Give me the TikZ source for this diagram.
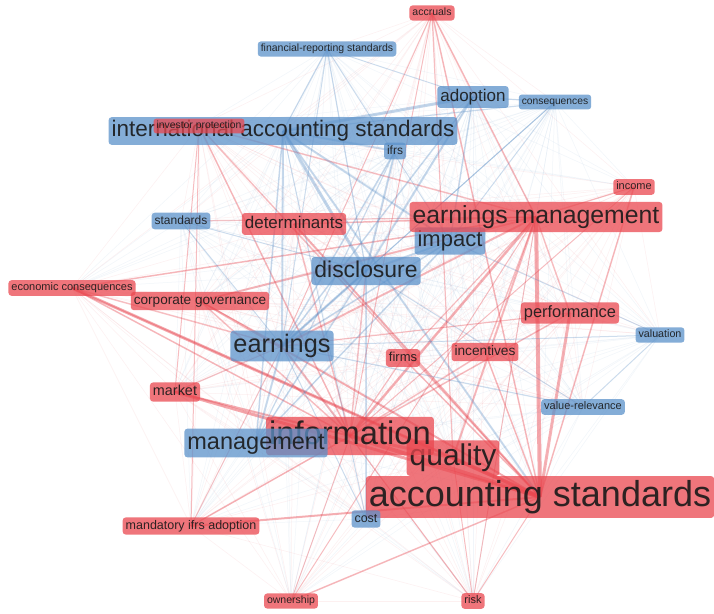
\documentclass[tikz,border=0pt]{standalone}
\usepackage{fontspec}
\setmainfont{Liberation Sans}
\pgfdeclarelayer{bg}
\pgfsetlayers{bg,main}
\definecolor{kwred}{RGB}{234,72,80}
\definecolor{kwblue}{RGB}{92,146,202}
\definecolor{ered}{RGB}{232,64,74}
\definecolor{eblue}{RGB}{84,138,196}
% node colours for the faint web
\colorlet{colas}{ered}\colorlet{colqual}{ered}\colorlet{colinfo}{ered}\colorlet{colem}{ered}
\colorlet{colinvp}{ered}\colorlet{colacc}{ered}\colorlet{colinc}{ered}\colorlet{coldet}{ered}
\colorlet{colecon}{ered}\colorlet{colcg}{ered}\colorlet{colperf}{ered}\colorlet{colfirms}{ered}
\colorlet{colincent}{ered}\colorlet{colmkt}{ered}\colorlet{colmia}{ered}\colorlet{colown}{ered}
\colorlet{colrisk}{ered}
\colorlet{colmgmt}{eblue}\colorlet{colimp}{eblue}\colorlet{colias}{eblue}\colorlet{colifrs}{eblue}
\colorlet{colfrs}{eblue}\colorlet{coladop}{eblue}\colorlet{colcons}{eblue}\colorlet{colstd}{eblue}
\colorlet{coldisc}{eblue}\colorlet{colval}{eblue}\colorlet{colearn}{eblue}\colorlet{colvr}{eblue}
\colorlet{colcost}{eblue}
\tikzset{
  kw/.style n args={2}{rounded corners=3pt, fill=#1, fill opacity=0.75, text opacity=0.9,
    text=black!90, font=\fontsize{#2}{#2}\selectfont,
    text height={0.74*#2pt}, text depth={0.21*#2pt},
    inner xsep=3pt, inner ysep={2pt+0.05*#2pt}},
  rk/.style={kw={kwred}{#1}},
  bk/.style={kw={kwblue}{#1}},
  web/.style={line width=0.5pt, opacity=0.08},
}
\begin{document}
\begin{tikzpicture}[x=1pt,y=-1pt]
\useasboundingbox (0,0) rectangle (714,613);
% nodes
\node[rk={36}]   (as)    at (540,497) {accounting standards};
\node[rk={30}]   (qual)  at (453,458) {quality};
\node[rk={32.7}] (info)  at (350,436) {information};
\node[bk={23.5}] (mgmt)  at (256,443) {management};
\node[bk={22}]   (imp)   at (450,241) {impact};
\node[rk={24.8}] (em)    at (536,217) {earnings management};
\node[bk={22.5}] (ias)   at (283,131) {international accounting standards};
\node[rk={10.4}] (invp)  at (199,126) {investor protection};
\node[bk={12}]   (ifrs)  at (395,151) {ifrs};
\node[rk={10.5}] (acc)   at (432,13)  {accruals};
\node[bk={10.5}] (frs)   at (327,49)  {financial-reporting standards};
\node[bk={17}]   (adop)  at (473,97)  {adoption};
\node[bk={10.3}] (cons)  at (555,102) {consequences};
\node[rk={11}]   (inc)   at (634,187) {income};
\node[bk={12}]   (std)   at (181,221) {standards};
\node[rk={17}]   (det)   at (294,224) {determinants};
\node[bk={22.9}] (disc)  at (366,271) {disclosure};
\node[rk={11}]   (econ)  at (72,288)  {economic consequences};
\node[rk={13.6}] (cg)    at (200,301) {corporate governance};
\node[rk={16.4}] (perf)  at (570,313) {performance};
\node[bk={10.7}] (val)   at (660,335) {valuation};
\node[bk={25.3}] (earn)  at (282,346) {earnings};
\node[rk={13}]   (firms) at (403,358) {firms};
\node[rk={13.7}] (incent) at (485,352) {incentives};
\node[rk={14.4}] (mkt)   at (175,392) {market};
\node[bk={11}]   (vr)    at (583,407) {value-relevance};
\node[bk={12.5}] (cost)  at (366,519) {cost};
\node[rk={12.5}] (mia)   at (191,526) {mandatory ifrs adoption};
\node[rk={10.5}] (own)   at (291,601) {ownership};
\node[rk={11}]   (risk)  at (473,601) {risk};
\def\allnodes{acc,frs,adop,cons,ias,invp,ifrs,inc,std,det,em,imp,disc,econ,cg,perf,val,earn,firms,incent,mkt,vr,info,mgmt,qual,as,cost,mia,own,risk}
\begin{pgfonlayer}{bg}
\fill[white] (0,0) rectangle (714,613);
\foreach \a [count=\i] in \allnodes {
  \foreach \b [count=\j] in \allnodes {
    \ifnum\j>\i
      \draw[web, color=col\a] (\a.center) -- (\b.center);
    \fi
  }
}
% red links
\foreach \a/\b/\w/\o in {
  econ/as/3/.45, econ/em/1.5/.35, econ/info/1.5/.35, econ/earn/1.5/.3, econ/qual/1.2/.3,
  cg/as/2/.4, cg/em/2/.35, cg/info/1.5/.3, cg/earn/1.2/.3,
  det/as/2/.4, det/em/1.5/.35, det/info/1.5/.3,
  invp/info/1.5/.35, invp/mia/1/.3, invp/mkt/1/.3, invp/as/1.5/.3, invp/em/1.5/.3,
  acc/as/1.5/.35, acc/em/1.5/.35, acc/qual/1.2/.3, acc/info/1/.3, acc/earn/1/.3,
  em/as/4/.45, em/info/2.5/.4, em/qual/2/.35, em/earn/2/.35, em/std/1.2/.3,
  em/incent/1.5/.3, em/perf/1.5/.3, em/firms/1.2/.3,
  inc/as/1.5/.35, inc/em/1.2/.3, inc/info/1/.3,
  perf/as/3/.4, perf/info/1.5/.3, perf/earn/1.2/.3,
  incent/as/1.5/.35, incent/info/1.5/.3, firms/as/1.5/.35, firms/info/1.2/.3,
  mkt/as/3/.45, mkt/info/2/.4, mkt/earn/1.2/.3,
  info/as/4/.45, info/qual/3/.4, qual/as/4/.45, info/earn/2/.35, info/disc/1.5/.3,
  mia/as/2/.4, mia/info/1.5/.35, mia/earn/1/.3,
  own/as/1.5/.35, own/info/1/.3, own/em/1/.3,
  risk/info/1.2/.35, risk/as/1/.3, risk/qual/1/.3, risk/em/1/.3}
  {\draw[ered, line width=\w pt, opacity=\o] (\a.center) -- (\b.center);}
% blue links
\foreach \a/\b/\w/\o in {
  ias/disc/3/.35, ias/adop/3/.35, ias/earn/2/.3, ias/imp/2/.3, ias/frs/1.2/.3,
  ias/ifrs/2/.3, ias/mgmt/1.5/.3, ias/as/2/.3, ias/cons/1.2/.25,
  adop/disc/2/.3, adop/earn/1.5/.3, adop/cons/1.2/.3, adop/imp/1.5/.3,
  frs/disc/1.2/.3, frs/earn/1/.25, frs/adop/1/.25, frs/imp/1/.25,
  cons/earn/1/.25, cons/disc/1/.25, cons/imp/1/.25,
  earn/disc/2.5/.35, earn/mgmt/2/.3, earn/imp/1.5/.3, earn/vr/1.2/.25, earn/val/1/.25,
  disc/imp/2/.3, disc/mgmt/1.5/.3, disc/cost/1.2/.25, mgmt/imp/1.5/.3,
  vr/disc/1/.25, val/imp/1/.25, val/vr/1/.25, std/disc/1/.25, std/earn/1/.25,
  cost/earn/1/.25, cost/ias/1/.25, ifrs/disc/2/.3, ifrs/earn/1.5/.3, ifrs/mgmt/1.2/.25}
  {\draw[eblue, line width=\w pt, opacity=\o] (\a.center) -- (\b.center);}
\end{pgfonlayer}
\end{tikzpicture}
\end{document}
